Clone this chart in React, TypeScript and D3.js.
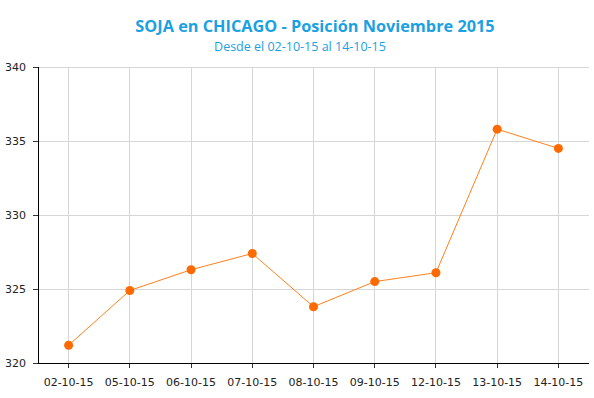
import React from "react";
import * as d3 from "d3";

const categories = ["02-10-15", "05-10-15", "06-10-15", "07-10-15", "08-10-15", "09-10-15", "12-10-15", "13-10-15", "14-10-15"];
const values = [321.2, 324.9, 326.3, 327.4, 323.8, 325.5, 326.1, 335.8, 334.5];
const yTicks = [320, 325, 330, 335, 340];
const title = "SOJA en CHICAGO - Posición Noviembre 2015";
const subtitle = "Desde el 02-10-15 al 14-10-15";

export default function App() {
  const W = 594, H = 398;
  const left = 38, right = 589, top = 67, bottom = 363;
  const x = d3.scaleBand<string>().domain(categories).range([left, right]);
  const y = d3.scaleLinear().domain([320, 340]).range([bottom, top]);
  const cx = (c: string) => (x(c) as number) + x.bandwidth() / 2;
  const line = d3.line<number>().x((_, i) => cx(categories[i])).y((v) => y(v));
  return (
    <svg width={W} height={H} style={{ position: "absolute", left: 0, top: 0, background: "#fff" }}>
      <text x={315} y={32} textAnchor="middle" fill="#1ba1e2" fontFamily="'Open Sans', sans-serif" fontWeight="bold" fontSize={16.3}>{title}</text>
      <text x={300} y={51} textAnchor="middle" fill="#1ba1e2" fontFamily="'Open Sans', sans-serif" fontSize={12.5}>{subtitle}</text>
      {yTicks.map((t) => (
        <line key={"gy" + t} x1={left} x2={right} y1={y(t)} y2={y(t)} stroke="#d6d6d6" strokeWidth={1} shapeRendering="crispEdges" />
      ))}
      {categories.map((c) => (
        <line key={"gx" + c} x1={cx(c)} x2={cx(c)} y1={top} y2={bottom + 5} stroke="#d6d6d6" strokeWidth={1} shapeRendering="crispEdges" />
      ))}
      {categories.map((c) => (
        <line key={"tx" + c} x1={cx(c)} x2={cx(c)} y1={bottom} y2={bottom + 5} stroke="#333" strokeWidth={1} shapeRendering="crispEdges" />
      ))}
      {yTicks.map((t) => (
        <line key={"ty" + t} x1={left - 5} x2={left} y1={y(t)} y2={y(t)} stroke="#333" strokeWidth={1} shapeRendering="crispEdges" />
      ))}
      <line x1={left} x2={left} y1={top} y2={bottom} stroke="#000" strokeWidth={1} shapeRendering="crispEdges" />
      <line x1={left} x2={right} y1={bottom} y2={bottom} stroke="#000" strokeWidth={1} shapeRendering="crispEdges" />
      {yTicks.map((t) => (
        <text key={"ly" + t} x={left - 12} y={y(t) + 4} textAnchor="end" fontFamily="'DejaVu Sans', sans-serif" fontSize={11} fill="#222">{t}</text>
      ))}
      {categories.map((c) => (
        <text key={"lx" + c} x={cx(c)} y={bottom + 23} textAnchor="middle" fontFamily="'DejaVu Sans', sans-serif" fontSize={11} fill="#222">{c}</text>
      ))}
      <path d={line(values) || ""} fill="none" stroke="#ff7f1e" strokeWidth={1} />
      {values.map((v, i) => (
        <circle key={"p" + i} cx={cx(categories[i])} cy={y(v)} r={4.5} fill="#ff6a00" />
      ))}
    </svg>
  );
}
